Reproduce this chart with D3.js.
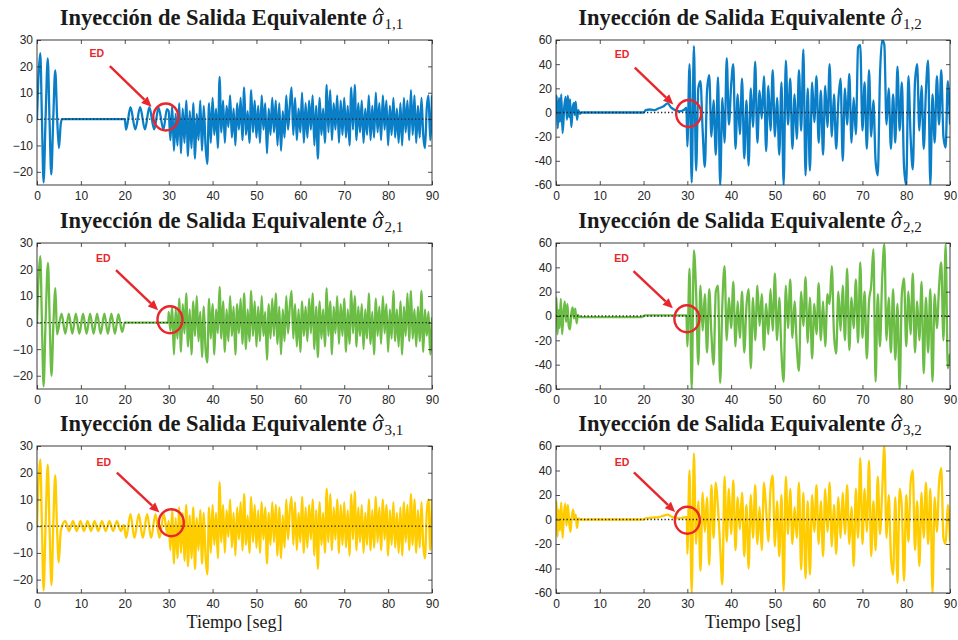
<!DOCTYPE html>
<html>
<head>
<meta charset="utf-8">
<script src="https://cdnjs.cloudflare.com/ajax/libs/d3/7.8.5/d3.min.js"></script>
<style>
  body { margin: 0; background: #fff; }
  .tick text { font-family: "Liberation Sans", Arial, sans-serif; font-size: 12px; fill: #262626; }
  .title { font-family: "Liberation Serif", serif; font-size: 22.5px; fill: #1a1a1a; }
  .xlabel { font-family: "Liberation Serif", serif; font-size: 18px; fill: #1a1a1a; }
  .ed { font-family: "Liberation Sans", Arial, sans-serif; font-size: 10.5px; font-weight: bold; fill: #e8262b; }
</style>
</head>
<body>
<svg id="chart" width="958" height="640"></svg>
<script>
// ticks
var xTicks = [0, 10, 20, 30, 40, 50, 60, 70, 80, 90];
var yTicksL = [-20, -10, 0, 10, 20, 30];
var yTicksR = [-60, -40, -20, 0, 20, 40, 60];

// tails are sampled from t = 30 s with a fixed step
var tailStart = 30, stepL = 0.4, stepR = 0.5;

// sigma 1,1
var head11 = [[0,0],[0.3,15],[0.75,25],[1.1,2],[1.5,-24],[1.95,0],[2.45,23],[2.85,0],[3.25,-21],[3.7,0],[4.15,18.5],[4.6,0],[5.0,-11],[5.4,-2],[5.7,0],[20,0],
  [20.3,-4],[21.3,4.5],[22.4,-3.9],[23.5,4.5],[24.6,-3.9],[25.6,4.5],[26.7,-3.9],[27.7,4.3],[28.8,-4],[29.6,3.8]];
var tail11 = [3,-8,5,-12,2,-10,6,-13,4,-9, 7,-14,3,-11,6,-15,2,-8,7,-12, 5,-10,-17,6,-9,8,-6,4,-11,16,
  -5,7,-9,5,-3,9,-7,4,-10,6, -4,8,-8,12,-6,3,-9,11,-5,7, -7,5,-9,9,-4,6,-13,4,-6,8,
  -5,7,-10,6,-12,3,-7,9,-4,5, 12,-6,8,-8,4,-5,10,-9,6,-7, 7,-4,9,-10,5,-15,8,-6,4,-9,
  13,-5,11,-8,6,-4,9,-9,7,-6, 8,-7,5,-10,12,-4,13,-8,6,-5, 7,-9,4,-6,9,-8,5,-7,10,-5,
  6,-8,9,-4,7,-10,5,-6,8,-7, 4,-9,6,-10,8,-5,7,-8,11,-6, 9,-9,5,-7,8,-6,-11,4,9,-8, 9];

// sigma 2,1
var head21 = [[0,0],[0.3,15],[0.75,25],[1.1,2],[1.5,-24],[1.95,0],[2.5,22.5],[2.9,0],[3.3,-20],[3.75,0],[4.2,13],[4.55,-4.4],
  [5.6,3.4],[6.45,-4.2],[7.25,3.4],[8.05,-4.2],[8.85,3.4],[9.65,-4.2],[10.5,3.4],[11.3,-4.2],[12.1,3.4],[12.9,-4.2],[13.7,3.4],
  [14.5,-4.2],[15.35,3.4],[16.15,-4.2],[16.95,3.4],[17.75,-4.2],[18.55,3.2],[19.4,-3.5],[20,0],[29.9,0]];
var tail21 = [4,-3,6,-12,5,-6,9,-11,7,-4, 11,-9,5,-12,8,-5,10,-7,4,-13, 6,-10,-15,9,-6,7,-12,5,-4,13.5,
  -6,8,-11,5,-7,10,-5,6,-12,7, -4,9,-8,11,-10,5,-7,12,-5,8, -9,6,-7,10,-5,4,-14,7,-6,9,
  -5,11,-8,6,-12,5,-7,10,-4,6, 12,-6,7,-9,5,-11,8,-5,6,-7, 9,-4,11,-10,6,-13,8,-6,5,-9,
  13,-5,8,-12,6,-4,10,-8,7,-5, 9,-11,5,-8,12,-4,10,-9,6,-5, 7,-10,5,-6,11,-8,4,-12,9,-5,
  6,-8,10,-4,7,-11,5,-6,12,-7, 5,-9,8,-12,6,-5,11,-7,12,-6, 5,-9,6,-7,12,-11,5,-5,4,-12, 2];

// sigma 3,1
var head31 = [[0,0],[0.3,15],[0.75,25],[1.1,2],[1.5,-24],[1.95,0],[2.45,23],[2.85,0],[3.3,-22],[3.7,0],[4.15,19],[4.55,0],[4.95,-13.5],[5.4,-2],[5.7,0],
  [6.45,1.9],[7.3,-1.8],[8.2,1.9],[9.05,-1.8],[9.9,1.9],[10.7,-1.8],[11.5,1.9],[12.3,-1.8],[13.1,1.9],[13.95,-1.8],[14.8,1.9],[15.65,-1.8],
  [16.5,1.9],[17.35,-1.8],[18.2,1.9],[19.1,-1.8],[19.8,0.5],[20.3,-4.4],[21.3,4.5],[22.2,-4.4],[23.2,4.5],[24.1,-4.4],[25.1,4.5],
  [26.0,-4.4],[27.0,4.5],[27.9,-4.4],[28.9,4.5],[29.7,-3]];
var tail31 = [2,-9,6,-14,3,-12,7,-10,5,-13, 8,-15,4,-12,7,-16,3,-9,6,-14, 5,-11,-18,7,-10,8,-7,5,-12,16.5,
  -6,8,-10,6,-4,10,-8,5,-11,7, -5,9,-9,12,-7,4,-10,11,-6,8, -8,6,-10,9,-5,7,-14,5,-7,9,
  -6,8,-11,7,-12,4,-8,10,-5,6, 11,-7,9,-9,5,-6,11,-10,7,-8, 8,-5,10,-11,6,-16,9,-7,5,-10,
  14,-6,12,-9,7,-5,10,-10,8,-7, 9,-8,6,-11,12,-5,13,-9,7,-6, 8,-10,5,-7,10,-9,6,-8,11,-6,
  7,-9,10,-5,8,-11,6,-7,9,-8, 5,-10,7,-11,9,-6,8,-9,12,-7, 10,-10,6,-8,9,-7,-12,5,10,-9, 10];

// sigma 1,2
var head12 = [[0,0],[0.15,14],[0.4,-13],[0.7,12],[0.9,-8],[1.2,15],[1.5,-17],[1.9,5],[2.2,13],[2.5,-6],[2.7,14],[3.0,-4],[3.2,11],[3.5,-12],
  [3.8,3],[4.1,8],[4.3,-2],[4.5,9],[4.8,-6],[5.1,2],[5.4,-1],[5.8,0],[20,0],[20.5,2],[21.5,2.5],[22.5,2],[23.5,3.5],[24.5,5],[25.5,7.5],
  [26.3,4],[27.2,2],[28.3,1],[29.2,2],[29.8,4]];
var tail12 = [-28,40,-58,55,-48,20,26,-15,-45,18, 31,-20,10,-35,29,-60,12,-25,45,-10,
  22,40,-30,15,-18,28,-38,10,-44,20, -12,42,-25,18,-5,30,-32,22,-15,35,
  -20,12,-35,25,-60,43,-10,28,-30,15, -22,35,-15,52,-52,20,-48,25,-8,30,
  -25,18,-35,22,-12,40,-20,15,-30,10, 28,-40,20,-10,32,-25,12,-18,54,56,
  -15,25,-30,35,-20,10,-40,-52,30,60, 56,-10,20,-30,15,-25,38,-15,25,-45,
  -60,30,-20,-47,25,40,-15,22,-30,18, 43,-60,15,-25,30,-10,35,-20,-29,26, -10];

// sigma 2,2
var head22 = [[0,0],[0.1,15],[0.35,-15],[0.6,5],[0.8,-10],[1.1,14],[1.4,-15],[1.7,2],[2.0,12],[2.3,-5],[2.6,10],[2.9,-8],[3.2,-11],[3.5,2],
  [3.8,7],[4.1,-2],[4.4,6],[4.7,-6],[5.0,1],[5.4,-1],[6,-1],[19,-1],[19.8,-0.5],[20.3,0.5],[29.8,0.5]];
var tail22 = [-25,39,-60,54,20,-40,25,-12,18,-30, 22,-15,-40,20,25,-55,10,41,-20,15,
  -10,28,-25,12,-18,20,-30,8,22,-43, 15,-20,25,-8,18,-28,10,-15,22,-12,
  35,-20,15,-30,-54,25,-10,30,-18,12, -25,-45,20,-8,32,-22,15,-35,10,-15,
  27,-20,12,-25,18,10,41,-15,-31,20, -12,25,-20,39,-28,15,-10,30,-22,44,
  -18,20,-35,12,25,55,-54,18,-25,30, 59,-20,15,-30,22,-36,10,-60,18,31,
  -25,20,-15,35,-30,12,-20,28,-47,15, -30,22,-54,18,-10,24,44,-20,59,-43, -31];

// sigma 3,2
var head32 = [[0,0],[0.1,15],[0.35,-14],[0.6,8],[0.9,-9],[1.2,14],[1.5,-15],[1.8,4],[2.1,13],[2.4,-5],[2.7,12],[3.0,-2],[3.3,-10],[3.6,2],
  [3.9,8],[4.2,0],[4.5,4],[4.8,-7],[5.1,1],[5.5,0],[20,0],[20.5,1],[22,1.5],[23.5,2],[24.5,3],[25.5,4],[26.3,2.5],[27.2,1.5],[28.5,1],[29.5,2],[29.9,2]];
var tail32 = [-28,40,-60,54,-20,15,-42,22,-10,18, -37,28,-15,30,10,-22,-53,35,-18,25,
  -12,32,-25,18,-8,22,-30,12,-40,20, -15,28,-20,10,-25,30,8,-18,25,36,
  -22,15,-30,20,-58,35,-12,25,-20,10, -15,30,-41,22,-48,15,-45,20,-10,28,
  -20,15,-30,25,-10,30,-22,12,-28,18, -15,22,-12,28,-20,10,-38,25,-15,50,
  -20,25,-10,48,-30,15,-25,35,-12,22, 60,-15,20,-30,-45,18,-52,25,10,-50,
  20,-18,30,40,-25,15,-38,22,-15,30, -20,25,-60,18,-10,30,42,-15,-20,12, -18];

// "ED" annotations, in data units: label, arrow start, arrow tip, circle centre
var ann11 = {label: [13.6, 23.7], from: [16.6, 20.1], to: [26.1, 4.7], ring: [29.35, 0.8]};
var ann21 = {label: [15.1, 22.9], from: [18.0, 19.8], to: [27.6, 4.7], ring: [30.3, 1.1]};
var ann31 = {label: [15.2, 22.6], from: [18.2, 20.0], to: [27.9, 5.1], ring: [30.6, 1.3]};
var ann12 = {label: [15.1, 45.0], from: [18.0, 37.2], to: [26.8, 6.6], ring: [30.3, -0.8]};
var ann22 = {label: [15.0, 44.1], from: [17.7, 36.8], to: [26.7, 6.3], ring: [29.9, -2.2]};
var ann32 = {label: [15.1, 43.6], from: [17.8, 38.5], to: [27.2, 6.2], ring: [30.0, -0.6]};

var blue = '#0a7fc8', green = '#6cbd45', yellow = '#ffcc00', red = '#e8262b';

var cols = [{x0: 37, x1: 432}, {x0: 556, x1: 950}];
var rows = [{y0: 40, y1: 185}, {y0: 243, y1: 389}, {y0: 446, y1: 593}];

var panels = [
  {sub: '1,1', row: 0, col: 0, color: blue,   head: head11, tail: tail11, step: stepL, ann: ann11},
  {sub: '1,2', row: 0, col: 1, color: blue,   head: head12, tail: tail12, step: stepR, ann: ann12},
  {sub: '2,1', row: 1, col: 0, color: green,  head: head21, tail: tail21, step: stepL, ann: ann21},
  {sub: '2,2', row: 1, col: 1, color: green,  head: head22, tail: tail22, step: stepR, ann: ann22},
  {sub: '3,1', row: 2, col: 0, color: yellow, head: head31, tail: tail31, step: stepL, ann: ann31},
  {sub: '3,2', row: 2, col: 1, color: yellow, head: head32, tail: tail32, step: stepR, ann: ann32}
];

var titleText = 'Inyección de Salida Equivalente ';

var svg = d3.select('#chart');
var defs = svg.append('defs');

panels.forEach(function(p, k) {
  var c = cols[p.col], r = rows[p.row];
  var w = c.x1 - c.x0, h = r.y1 - r.y0;
  var left = p.col == 0;

  var x = d3.scaleLinear().domain([0, 90]).range([0, w]);
  var y = d3.scaleLinear().domain(left ? [-25, 30] : [-60, 60]).range([h, 0]);

  var g = svg.append('g').attr('transform', 'translate(' + c.x0 + ',' + r.y0 + ')');

  defs.append('clipPath').attr('id', 'clip' + k)
    .append('rect').attr('width', w).attr('height', h);

  var pts = p.head.concat(p.tail.map(function(v, i) { return [tailStart + i * p.step, v]; }));

  var line = d3.line()
    .curve(d3.curveMonotoneX)
    .x(function(d) { return x(d[0]); })
    .y(function(d) { return y(d[1]); });

  g.append('path')
    .datum(pts)
    .attr('clip-path', 'url(#clip' + k + ')')
    .attr('fill', 'none')
    .attr('stroke', p.color)
    .attr('stroke-width', 2.3)
    .attr('stroke-linejoin', 'round')
    .attr('d', line);

  // dotted zero line
  g.append('line')
    .attr('x1', 0).attr('x2', w)
    .attr('y1', y(0)).attr('y2', y(0))
    .attr('stroke', '#222')
    .attr('stroke-width', 1.3)
    .attr('stroke-dasharray', '1.3,2.2');

  // axes, MATLAB style: inward ticks on all four sides
  var fmt = left ? d3.format('') : function(d) { return String(d); };
  var yt = left ? yTicksL : yTicksR;

  g.append('g').call(d3.axisLeft(y).tickValues(yt).tickFormat(fmt).tickSizeInner(-4).tickSizeOuter(0).tickPadding(4));
  g.append('g').attr('transform', 'translate(' + w + ',0)')
    .call(d3.axisRight(y).tickValues(yt).tickFormat('').tickSizeInner(-4).tickSizeOuter(0));
  g.append('g').attr('transform', 'translate(0,' + h + ')')
    .call(d3.axisBottom(x).tickValues(xTicks).tickSizeInner(-4).tickSizeOuter(0).tickPadding(6));
  g.append('g')
    .call(d3.axisTop(x).tickValues(xTicks).tickFormat('').tickSizeInner(-4).tickSizeOuter(0));

  g.selectAll('.domain').remove();
  g.selectAll('.tick line').attr('stroke', '#262626').attr('stroke-width', 0.8);

  g.append('rect')
    .attr('width', w).attr('height', h)
    .attr('fill', 'none')
    .attr('stroke', '#262626')
    .attr('stroke-width', 0.9);

  // title; the hat over sigma is drawn as a small path
  var ty = r.y0 - 15;
  var t = svg.append('text')
    .attr('class', 'title')
    .attr('x', c.x0 + w / 2 - 3)
    .attr('y', ty)
    .attr('text-anchor', 'middle');
  t.append('tspan').attr('font-weight', 'bold').text(titleText);
  t.append('tspan').attr('font-style', 'italic').text('\u03c3');
  t.append('tspan').attr('font-size', '15px').attr('dy', 4).attr('dx', 1).text(p.sub);

  var ext = t.node().getExtentOfChar(titleText.length);
  var hx = ext.x + ext.width / 2 + 1.5;
  svg.append('path')
    .attr('d', 'M' + (hx - 3.6) + ',' + (ty - 12.5) + 'L' + hx + ',' + (ty - 16.5) + 'L' + (hx + 3.6) + ',' + (ty - 12.5))
    .attr('fill', 'none')
    .attr('stroke', '#1a1a1a')
    .attr('stroke-width', 1.2)
    .attr('stroke-linejoin', 'miter');

  // ED annotation
  var a = p.ann;
  g.append('text')
    .attr('class', 'ed')
    .attr('x', x(a.label[0])).attr('y', y(a.label[1]))
    .attr('text-anchor', 'middle')
    .text('ED');

  var x1 = x(a.from[0]), y1 = y(a.from[1]), x2 = x(a.to[0]), y2 = y(a.to[1]);
  var ang = Math.atan2(y2 - y1, x2 - x1), hl = 10, hw = 4.5;
  var bx = x2 - hl * Math.cos(ang), by = y2 - hl * Math.sin(ang);
  g.append('line')
    .attr('x1', x1).attr('y1', y1).attr('x2', bx).attr('y2', by)
    .attr('stroke', red).attr('stroke-width', 2.4);
  g.append('path')
    .attr('d', 'M' + x2 + ',' + y2 +
      'L' + (bx - hw * Math.sin(ang)) + ',' + (by + hw * Math.cos(ang)) +
      'L' + (bx + hw * Math.sin(ang)) + ',' + (by - hw * Math.cos(ang)) + 'Z')
    .attr('fill', red);

  g.append('ellipse')
    .attr('cx', x(a.ring[0])).attr('cy', y(a.ring[1]))
    .attr('rx', 12.5).attr('ry', 13.5)
    .attr('fill', 'none')
    .attr('stroke', red)
    .attr('stroke-width', 2.4);

  if (p.row == 2) {
    svg.append('text')
      .attr('class', 'xlabel')
      .attr('x', c.x0 + w / 2)
      .attr('y', 628)
      .attr('text-anchor', 'middle')
      .text('Tiempo [seg]');
  }
});
</script>
</body>
</html>
